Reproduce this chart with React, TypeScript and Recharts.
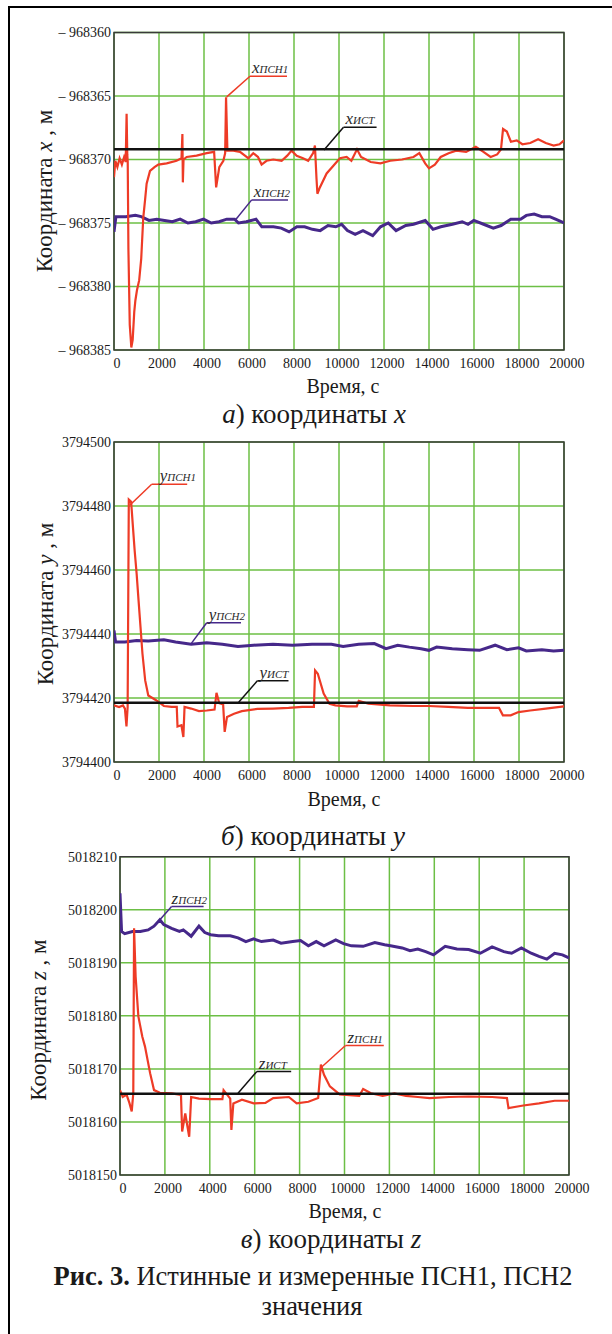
import React from "react";
import { LineChart, Line, XAxis, YAxis, CartesianGrid, ReferenceLine, ReferenceArea } from "recharts";

type Pt = [number, number];

// time axis, seconds
const timeTicks = [0, 2000, 4000, 6000, 8000, 10000, 12000, 14000, 16000, 18000, 20000];

// а) coordinate x
const xTicks = [-968385, -968380, -968375, -968370, -968365, -968360];
const xIst = -968369.2;
const xPsn1: Pt[] = [
  [0, -968371.4], [60, -968370.1], [150, -968370.6], [250, -968369.9], [350, -968370.4],
  [450, -968369.8], [520, -968370.2], [560, -968366.4], [590, -968369.6], [610, -968370.2],
  [640, -968377.0], [700, -968383.0], [770, -968384.8], [830, -968384.2], [900, -968382.0],
  [950, -968381.1], [1020, -968380.3], [1120, -968379.5], [1210, -968377.8], [1300, -968374.6],
  [1380, -968373.2], [1450, -968371.9], [1600, -968370.9], [1800, -968370.6], [1970, -968370.4],
  [2340, -968370.3], [2780, -968370.1], [3000, -968369.9], [3040, -968368.0], [3060, -968371.8],
  [3090, -968370.0], [3230, -968369.8], [3670, -968369.7], [4120, -968369.5], [4450, -968369.4],
  [4540, -968372.2], [4680, -968370.6], [4860, -968370.1], [4940, -968369.5], [4980, -968365.1],
  [5040, -968369.3], [5300, -968369.3], [5600, -968369.4], [5820, -968369.7], [5970, -968369.9],
  [6190, -968369.5], [6400, -968369.8], [6560, -968370.4], [6780, -968370.1], [7080, -968370.0],
  [7450, -968370.1], [7700, -968369.7], [7890, -968369.3], [8120, -968369.7], [8400, -968369.9],
  [8630, -968370.1], [8850, -968369.5], [8930, -968368.9], [9000, -968371.5], [9040, -968372.7],
  [9150, -968372.2], [9450, -968371.1], [9750, -968370.5], [10040, -968369.9], [10340, -968369.8],
  [10550, -968370.1], [10800, -968369.2], [10980, -968369.8], [11410, -968370.2], [11840, -968370.3],
  [12280, -968370.1], [12800, -968370.0], [13310, -968369.8], [13570, -968369.5], [13830, -968370.3],
  [14000, -968370.7], [14260, -968370.4], [14520, -968369.8], [14870, -968369.5], [15210, -968369.3],
  [15650, -968369.4], [16080, -968369.0], [16420, -968369.4], [16740, -968369.8], [17030, -968369.6],
  [17200, -968369.2], [17290, -968367.6], [17460, -968367.8], [17640, -968368.6], [17900, -968368.5],
  [18150, -968368.8], [18500, -968368.7], [18850, -968368.4], [19190, -968368.7], [19540, -968368.9],
  [19800, -968368.8], [20000, -968368.5],
];
const xPsn2: Pt[] = [
  [0, -968375.7], [86, -968374.5], [519, -968374.5], [951, -968374.4], [1210, -968374.5],
  [1556, -968374.8], [1902, -968374.7], [2248, -968374.8], [2594, -968374.9], [2939, -968374.7],
  [3285, -968375.0], [3631, -968374.9], [3977, -968374.7], [4323, -968375.0], [4668, -968374.9],
  [5014, -968374.7], [5360, -968374.7], [5533, -968375.0], [5879, -968374.9], [6311, -968374.7],
  [6570, -968375.3], [7089, -968375.3], [7435, -968375.4], [7781, -968375.7], [8126, -968375.3],
  [8472, -968375.3], [8818, -968375.5], [9164, -968375.6], [9510, -968375.2], [9855, -968375.3],
  [10115, -968375.1], [10374, -968375.6], [10720, -968375.9], [11066, -968375.6], [11498, -968376.0],
  [11844, -968375.3], [12189, -968375.0], [12535, -968375.6], [12968, -968375.2], [13313, -968375.1],
  [13832, -968374.8], [14178, -968375.5], [14524, -968375.3], [15042, -968375.1], [15475, -968374.9],
  [15734, -968375.1], [15993, -968374.8], [16426, -968375.1], [16858, -968375.4], [17204, -968375.2],
  [17636, -968374.7], [18068, -968374.7], [18327, -968374.4], [18673, -968374.3], [19019, -968374.5],
  [19365, -968374.5], [19624, -968374.7], [20000, -968375.0],
];

// б) coordinate y
const yTicks = [3794400, 3794420, 3794440, 3794460, 3794480, 3794500];
const yIst = 3794418.5;
const yPsn1: Pt[] = [
  [0, 3794417.7], [225, 3794417.2], [398, 3794417.7], [485, 3794416.7], [554, 3794411.1],
  [606, 3794417.2], [658, 3794482.0], [762, 3794481.3], [831, 3794474.5], [918, 3794466.1],
  [1005, 3794458.9], [1091, 3794450.5], [1178, 3794442.2], [1264, 3794433.9], [1386, 3794425.5],
  [1524, 3794420.8], [1871, 3794419.3], [2217, 3794417.5], [2563, 3794417.2], [2789, 3794417.2],
  [2823, 3794411.1], [2996, 3794411.5], [3083, 3794407.8], [3135, 3794417.2], [3429, 3794416.7],
  [3776, 3794415.9], [4122, 3794416.1], [4469, 3794416.4], [4555, 3794421.6], [4676, 3794418.4],
  [4850, 3794418.0], [4919, 3794409.4], [5023, 3794414.1], [5335, 3794415.1], [5681, 3794415.9],
  [6374, 3794416.6], [7067, 3794416.7], [7759, 3794416.9], [8366, 3794417.2], [8885, 3794417.2],
  [8937, 3794428.6], [9058, 3794427.6], [9318, 3794421.4], [9578, 3794418.2], [9838, 3794417.7],
  [10357, 3794417.4], [10790, 3794417.4], [10877, 3794419.1], [11310, 3794418.2], [12263, 3794417.7],
  [13302, 3794417.5], [13995, 3794417.5], [14861, 3794417.2], [15727, 3794416.9], [17112, 3794416.9],
  [17285, 3794414.6], [17632, 3794414.6], [17978, 3794415.6], [18498, 3794416.1], [19191, 3794416.7],
  [20000, 3794417.4],
];
const yPsn2: Pt[] = [
  [0, 3794441.1], [69, 3794437.5], [485, 3794437.5], [1005, 3794438.0], [1524, 3794437.8],
  [2217, 3794438.2], [2737, 3794437.5], [3429, 3794436.8], [4122, 3794437.3], [4815, 3794436.8],
  [5508, 3794436.1], [6201, 3794436.5], [7067, 3794436.8], [7933, 3794436.5], [8799, 3794436.8],
  [9665, 3794436.8], [10184, 3794436.1], [10877, 3794436.8], [11570, 3794437.0], [12089, 3794435.4],
  [12609, 3794436.5], [13129, 3794435.9], [13648, 3794435.4], [13995, 3794434.9], [14341, 3794435.9],
  [15034, 3794435.4], [15727, 3794435.1], [16246, 3794434.9], [16939, 3794436.5], [17459, 3794435.1],
  [17978, 3794435.7], [18324, 3794434.7], [19017, 3794435.1], [19537, 3794434.7], [20000, 3794434.9],
];

// в) coordinate z
const zTicks = [5018150, 5018160, 5018170, 5018180, 5018190, 5018200, 5018210];
const zIst = 5018165.3;
const zPsn1: Pt[] = [
  [0, 5018166.0], [122, 5018164.7], [296, 5018165.1], [418, 5018163.6], [522, 5018162.0],
  [592, 5018165.4], [627, 5018196.5], [696, 5018187.4], [818, 5018179.9], [992, 5018176.1],
  [1114, 5018174.2], [1341, 5018169.2], [1515, 5018166.0], [1776, 5018165.5], [2298, 5018165.4],
  [2716, 5018165.1], [2768, 5018158.2], [2907, 5018161.6], [3082, 5018157.2], [3169, 5018164.7],
  [3517, 5018164.4], [4039, 5018164.3], [4561, 5018164.3], [4614, 5018166.0], [4910, 5018164.4],
  [4962, 5018158.5], [5049, 5018163.5], [5432, 5018164.2], [5954, 5018163.5], [6476, 5018163.6],
  [6825, 5018164.5], [7521, 5018164.7], [7869, 5018163.5], [8392, 5018163.8], [8827, 5018164.5],
  [8949, 5018170.8], [9088, 5018168.9], [9349, 5018166.7], [9784, 5018165.2], [10655, 5018164.9],
  [10829, 5018166.2], [11177, 5018165.4], [11700, 5018164.9], [12222, 5018165.4], [12744, 5018164.9],
  [13266, 5018164.7], [13789, 5018164.5], [14659, 5018164.7], [15530, 5018164.8], [16574, 5018164.7],
  [17236, 5018164.5], [17305, 5018162.6], [17967, 5018163.1], [18663, 5018163.5], [19360, 5018164.0],
  [20000, 5018164.0],
];
const zPsn2: Pt[] = [
  [0, 5018203.1], [70, 5018195.9], [209, 5018195.5], [557, 5018195.9], [905, 5018195.9],
  [1254, 5018196.2], [1515, 5018196.9], [1776, 5018198.1], [1950, 5018197.2], [2298, 5018196.5],
  [2646, 5018195.9], [2820, 5018196.2], [3169, 5018195.0], [3517, 5018196.9], [3778, 5018195.7],
  [4039, 5018195.3], [4387, 5018195.1], [4910, 5018195.1], [5258, 5018194.7], [5606, 5018194.0],
  [5954, 5018194.5], [6302, 5018194.0], [6825, 5018194.3], [7173, 5018193.7], [7695, 5018194.0],
  [8043, 5018194.2], [8392, 5018193.2], [8740, 5018194.0], [9088, 5018193.2], [9610, 5018194.3],
  [9959, 5018193.6], [10307, 5018193.2], [10829, 5018193.1], [11351, 5018193.8], [11787, 5018193.4],
  [12048, 5018193.2], [12570, 5018192.8], [12918, 5018192.3], [13266, 5018192.6], [13615, 5018192.1],
  [13963, 5018191.5], [14485, 5018193.1], [15007, 5018192.6], [15530, 5018192.5], [16052, 5018191.8],
  [16574, 5018193.0], [17097, 5018192.1], [17445, 5018191.8], [17880, 5018192.8], [18315, 5018191.8],
  [18663, 5018191.2], [19012, 5018190.7], [19360, 5018191.8], [19708, 5018191.5], [20000, 5018190.9],
];

const SERIF = '"Liberation Serif", "Times New Roman", serif';
const RED = "#ee3b26";
const PURPLE = "#46288a";
const GRID = "#6cbf45";
const INK = "#1a1a1a";

interface Tag {
  main: string;
  sub: string;
  color: string;
  tip: Pt;
  knee: Pt;
  endT: number;
  dx: number;
}

const toPts = (arr: Pt[]) => arr.map(([t, v]) => ({ t, v }));

const TagLabel = (props: any) => {
  const vb = props.viewBox || { x: 0, y: 0 };
  return (
    <text x={vb.x + props.dx} y={vb.y - 3} fontFamily={SERIF} fontStyle="italic" fill="#2a2a2a">
      <tspan fontSize={17}>{props.main}</tspan>
      <tspan fontSize={11}>{props.sub}</tspan>
    </text>
  );
};

interface PanelProps {
  top: number;
  height: number;
  marginTop: number;
  axisW: number;
  right: number;
  ticks: number[];
  fmt?: (v: number) => string;
  red: Pt[];
  purple: Pt[];
  ist: number;
  tags: Tag[];
}

function Panel({ top, height, marginTop, axisW, right, ticks, fmt, red, purple, ist, tags }: PanelProps) {
  const dom: [number, number] = [ticks[0], ticks[ticks.length - 1]];
  const format = fmt || ((v: number) => String(v));
  return (
    <div style={{ position: "absolute", left: 0, top }}>
      <LineChart width={612} height={height} margin={{ top: marginTop, right, bottom: 0, left: 0 }}>
        <CartesianGrid stroke={GRID} strokeWidth={1.5} />
        <XAxis
          dataKey="t"
          type="number"
          domain={[0, 20000]}
          ticks={timeTicks}
          interval={0}
          height={30}
          axisLine={false}
          tickLine={false}
          tickSize={0}
          tickMargin={0}
          allowDataOverflow
          tick={(p: any) => (
            <text x={p.x + 3} y={p.y + 18} textAnchor="middle" fontSize={14} fontFamily={SERIF} fill={INK}>
              {p.payload.value}
            </text>
          )}
        />
        <YAxis
          type="number"
          domain={dom}
          ticks={ticks}
          interval={0}
          width={axisW}
          axisLine={false}
          tickLine={false}
          tickSize={0}
          tickMargin={0}
          allowDataOverflow
          tick={(p: any) => (
            <text x={p.x - 3} y={p.y} dy="0.35em" textAnchor="end" fontSize={14} fontFamily={SERIF} fill={INK}>
              {format(p.payload.value)}
            </text>
          )}
        />
        <ReferenceArea x1={0} x2={20000} y1={dom[0]} y2={dom[1]} fill="none" stroke="#3a3a3a" strokeWidth={1.5} />
        <Line data={toPts(purple)} dataKey="v" type="linear" stroke={PURPLE} strokeWidth={3} dot={false} isAnimationActive={false} />
        <Line data={toPts(red)} dataKey="v" type="linear" stroke={RED} strokeWidth={2.2} dot={false} isAnimationActive={false} />
        <Line
          data={toPts([[0, ist], [20000, ist]])}
          dataKey="v"
          type="linear"
          stroke="#111"
          strokeWidth={2.5}
          dot={false}
          isAnimationActive={false}
        />
        {tags.map((g, i) => (
          <ReferenceLine
            key={"d" + i}
            segment={[{ x: g.tip[0], y: g.tip[1] }, { x: g.knee[0], y: g.knee[1] }]}
            stroke={g.color}
            strokeWidth={1.5}
          />
        ))}
        {tags.map((g, i) => (
          <ReferenceLine
            key={"h" + i}
            segment={[{ x: g.knee[0], y: g.knee[1] }, { x: g.endT, y: g.knee[1] }]}
            stroke={g.color}
            strokeWidth={1.5}
            label={<TagLabel main={g.main} sub={g.sub} dx={g.dx} />}
          />
        ))}
      </LineChart>
    </div>
  );
}

const xTags: Tag[] = [
  { main: "x", sub: "ПСН1", color: RED, tip: [5008, -968365.07], knee: [6044, -968363.44], endT: 7689, dx: 2 },
  { main: "x", sub: "ИСТ", color: "#111", tip: [9333, -968369.26], knee: [10200, -968367.46], endT: 11670, dx: 2 },
  { main: "x", sub: "ПСН2", color: PURPLE, tip: [5377, -968374.81], knee: [6120, -968373.18], endT: 7733, dx: 2 },
];
const yTags: Tag[] = [
  { main: "y", sub: "ПСН1", color: RED, tip: [711, 3794480.3], knee: [1675, 3794486.8], endT: 3253, dx: 8 },
  { main: "y", sub: "ПСН2", color: PURPLE, tip: [3422, 3794436.9], knee: [4120, 3794443.5], endT: 5644, dx: 2 },
  { main: "y", sub: "ИСТ", color: "#111", tip: [5542, 3794418.7], knee: [6373, 3794425.4], endT: 7755, dx: 2 },
];
const zTags: Tag[] = [
  { main: "z", sub: "ПСН2", color: PURPLE, tip: [1688, 5018197.7], knee: [2298, 5018200.6], endT: 3724, dx: 0 },
  { main: "z", sub: "ПСН1", color: RED, tip: [8997, 5018170.4], knee: [10044, 5018174.4], endT: 11750, dx: 2 },
  { main: "z", sub: "ИСТ", color: "#111", tip: [5256, 5018165.4], knee: [6093, 5018169.5], endT: 7625, dx: 2 },
];

const negFmt = (v: number) => "– " + Math.abs(v);

function AxisTitle({ cx, cy, letter }: { cx: number; cy: number; letter: string }) {
  return (
    <text transform={`translate(${cx},${cy}) rotate(-90)`} textAnchor="middle" fontSize={23} fontFamily={SERIF} fill={INK}>
      Координата <tspan fontStyle="italic">{letter}</tspan> , м
    </text>
  );
}

function Caption({ cx, y, tag, letter }: { cx: number; y: number; tag: string; letter: string }) {
  return (
    <text x={cx} y={y} textAnchor="middle" fontSize={27} fontFamily={SERIF} fill={INK}>
      <tspan fontStyle="italic">{tag}</tspan>) координаты <tspan fontStyle="italic">{letter}</tspan>
    </text>
  );
}

export default function App() {
  return (
    <div style={{ position: "absolute", left: 0, top: 0, width: 612, height: 1334, background: "#fff", overflow: "hidden" }}>
      <div
        style={{
          position: "absolute",
          left: 8,
          top: 6,
          width: 620,
          height: 1340,
          borderLeft: "2px solid #000",
          borderTop: "2px solid #000",
        }}
      />
      <Panel top={0} height={380} marginTop={32.5} axisW={114} right={48} ticks={xTicks} fmt={negFmt} red={xPsn1} purple={xPsn2} ist={xIst} tags={xTags} />
      <Panel top={400} height={392} marginTop={42} axisW={114} right={48} ticks={yTicks} red={yPsn1} purple={yPsn2} ist={yIst} tags={yTags} />
      <Panel top={820} height={385} marginTop={36.7} axisW={120} right={43} ticks={zTicks} red={zPsn1} purple={zPsn2} ist={zIst} tags={zTags} />
      <svg width={612} height={1334} style={{ position: "absolute", left: 0, top: 0, pointerEvents: "none" }}>
        <AxisTitle cx={52} cy={191} letter="x" />
        <AxisTitle cx={53} cy={604} letter="y" />
        <AxisTitle cx={46} cy={1020} letter="z" />
        <g fontSize={20} fontFamily={SERIF} fill={INK} textAnchor="middle">
          <text x={343} y={393}>Время, с</text>
          <text x={344} y={806}>Время, с</text>
          <text x={345} y={1218}>Время, с</text>
        </g>
        <Caption cx={314} y={423} tag="а" letter="x" />
        <Caption cx={313} y={845} tag="б" letter="y" />
        <Caption cx={331} y={1248} tag="в" letter="z" />
        <text x={313} y={1285} textAnchor="middle" fontSize={26.5} fontFamily={SERIF} fill={INK}>
          <tspan fontWeight="bold">Рис. 3.</tspan> Истинные и измеренные ПСН1, ПСН2
        </text>
        <text x={312} y={1315} textAnchor="middle" fontSize={26.5} fontFamily={SERIF} fill={INK}>
          значения
        </text>
      </svg>
    </div>
  );
}
